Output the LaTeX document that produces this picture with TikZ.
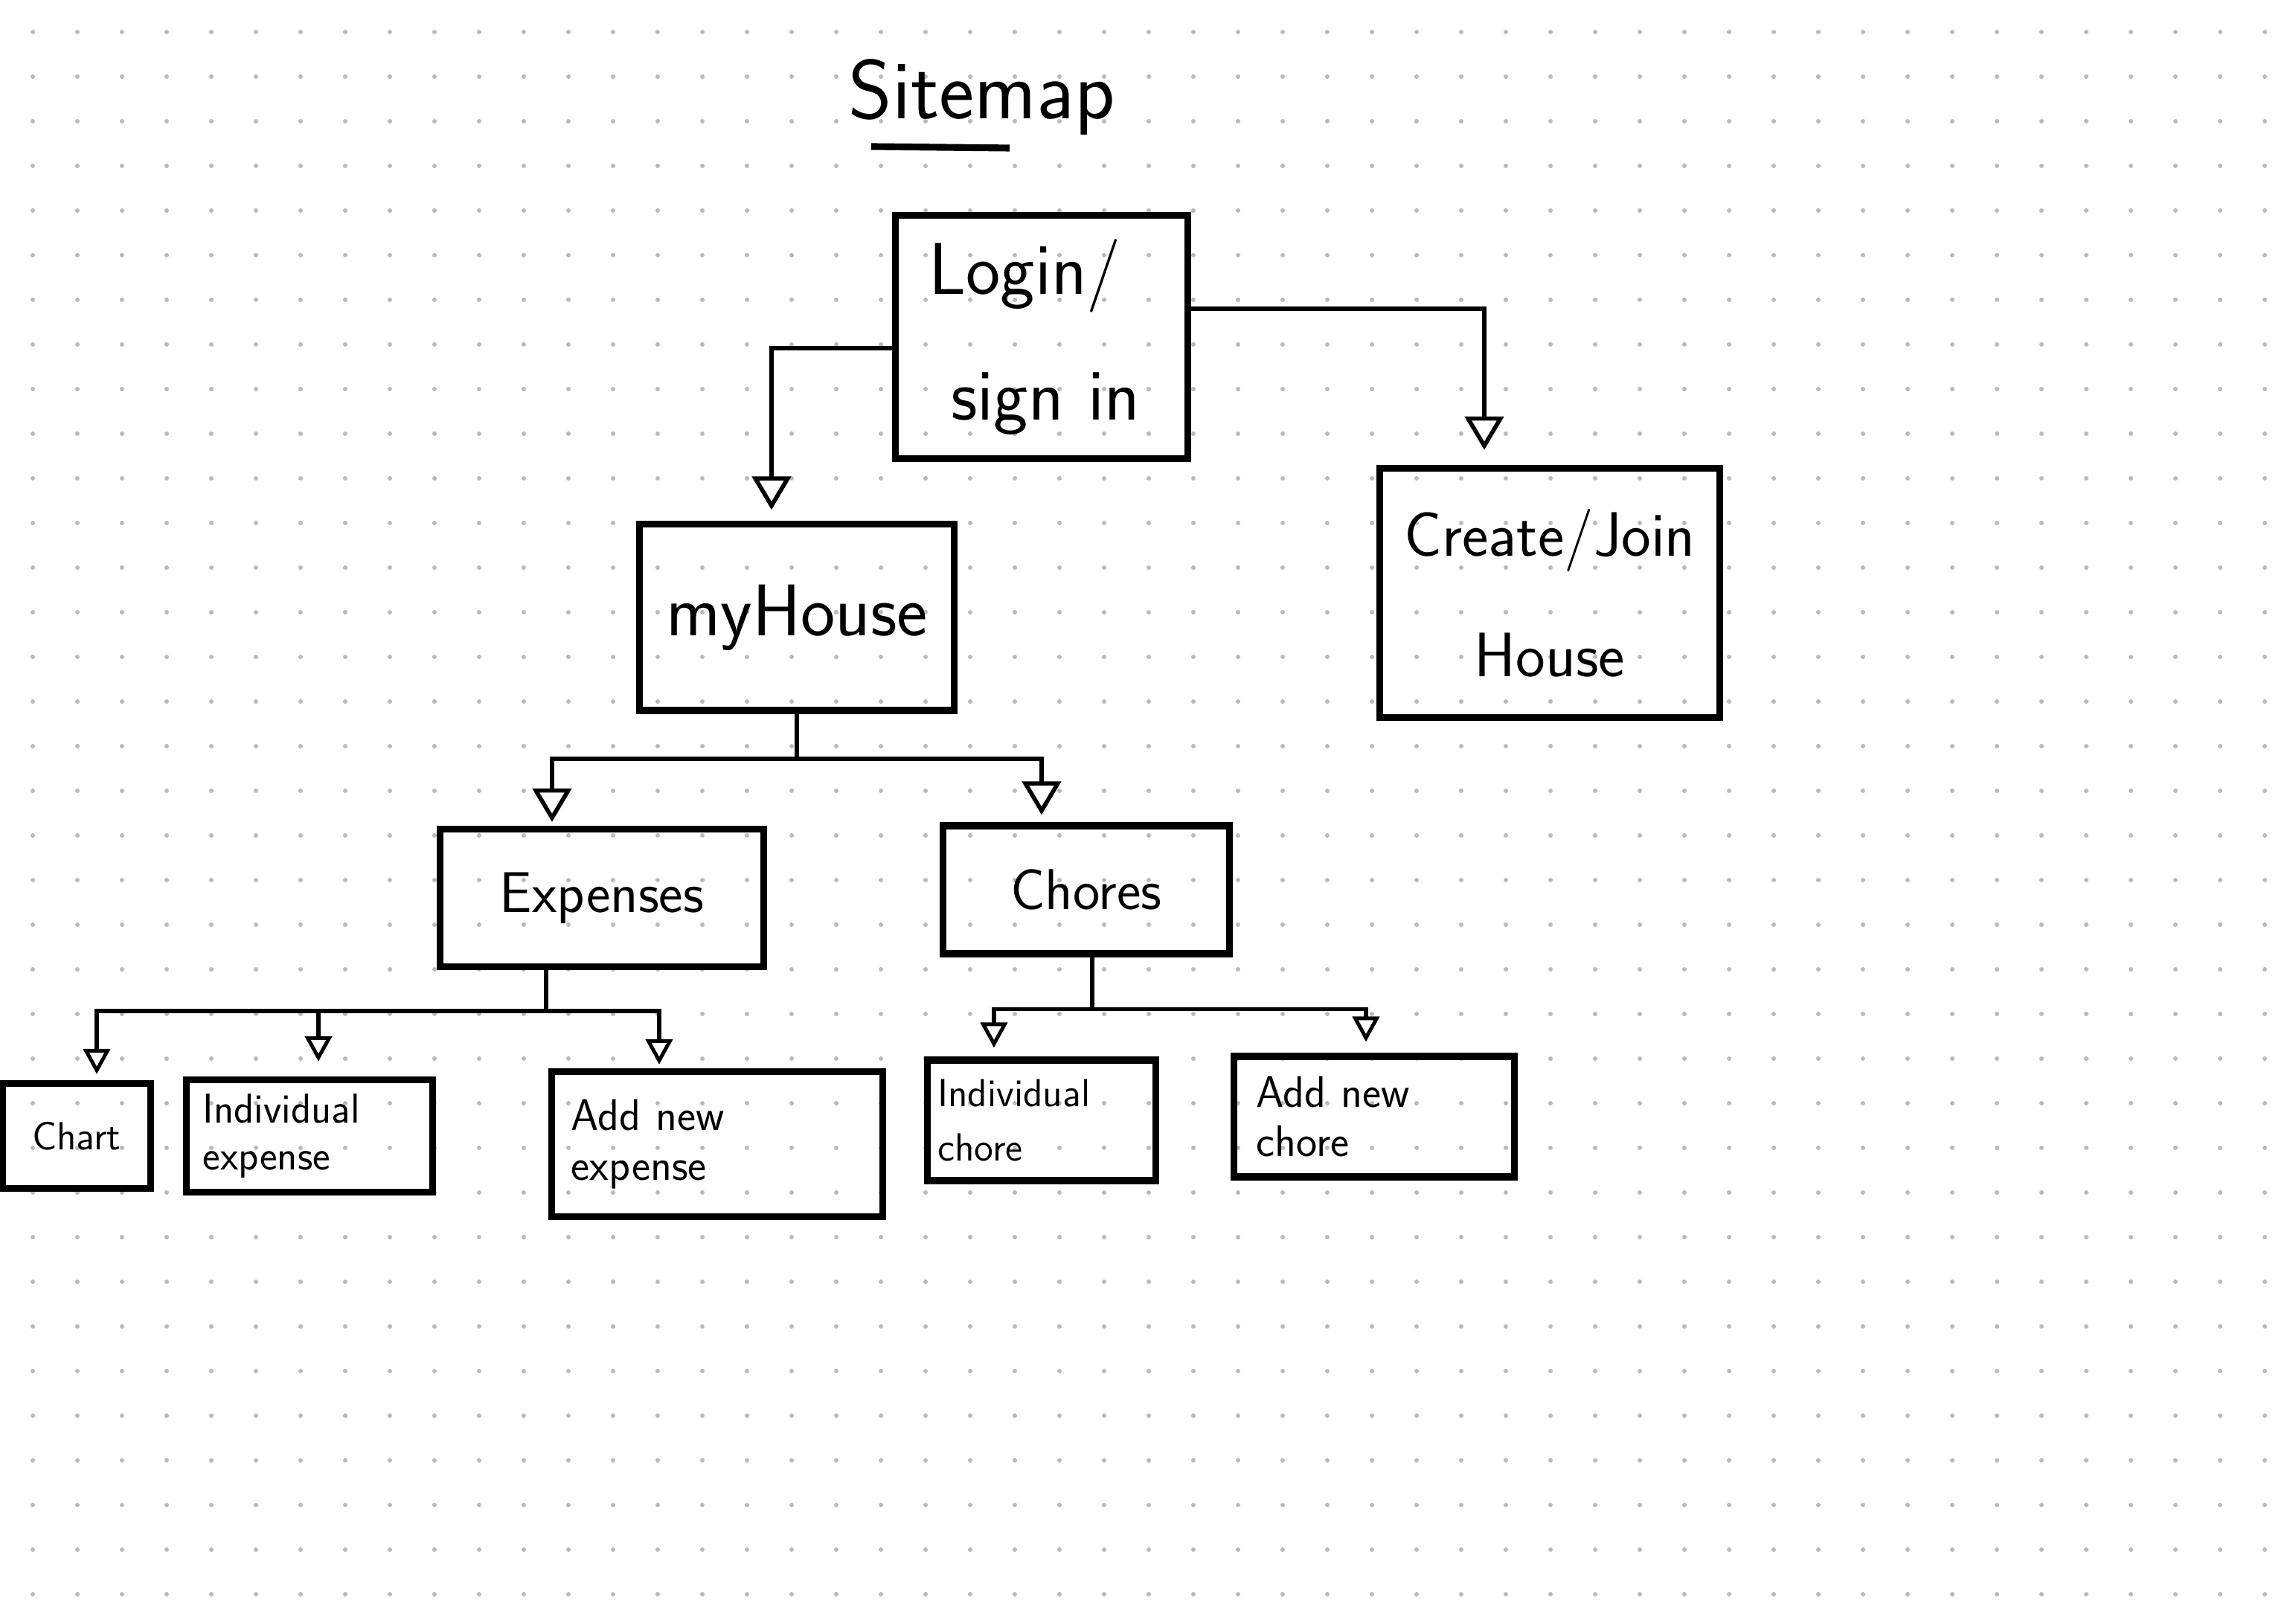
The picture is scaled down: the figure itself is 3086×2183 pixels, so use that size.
\documentclass[tikz,border=0pt]{standalone}
\usepackage{fontspec}
\usepackage{tikz}
\usetikzlibrary{arrows.meta}

\definecolor{dotgray}{RGB}{186,186,186}

\tikzset{
  pagebox/.style={draw, line width=2.6pt, inner sep=2pt, font=\sffamily},
  link/.style={line width=1.8pt, -{Triangle[open, width=0.52cm, length=0.45cm, line width=1.6pt]}},
  sublink/.style={line width=1.6pt, -{Triangle[open, width=0.36cm, length=0.34cm, line width=1.4pt]}},
  stem/.style={line width=1.8pt},
}

\begin{document}
\begin{tikzpicture}[x=0.01cm, y=-0.01cm]
\useasboundingbox (0,0) rectangle (3086,2183);
\fill[white] (0,0) rectangle (3086,2183);

% dotted paper
\foreach \i in {0,...,50}
  \foreach \j in {0,...,35}
    \fill[dotgray] (44+60*\i, 43+60*\j) circle[radius=0.03cm];

% heading
\node[anchor=base west, inner sep=0pt, font=\sffamily\fontsize{32}{36}\selectfont] (heading) at (1140,160) {Sitemap};
\draw[line width=2.6pt] (1171,197) -- (1357,199);

% pages
\node[pagebox, align=left, inner xsep=0.45cm, text width=3.03cm, minimum height=3.27cm,
      font=\sffamily\fontsize{28}{48}\selectfont] (login) at (1400,453) {Login/\\\hspace*{0.3cm}sign in};
\node[pagebox, minimum width=4.23cm, minimum height=2.5cm,
      font=\sffamily\fontsize{28}{34}\selectfont] (myhouse) at (1071,830) {myHouse};
\node[pagebox, align=center, minimum width=4.57cm, minimum height=3.35cm,
      font=\sffamily\fontsize{24}{46}\selectfont] (create) at (2083,797) {Create/Join\\House};

\node[pagebox, minimum width=4.35cm, minimum height=1.85cm,
      font=\sffamily\fontsize{22}{26}\selectfont] (expenses) at (809,1207) {Expenses};
\node[pagebox, minimum width=3.85cm, minimum height=1.72cm,
      font=\sffamily\fontsize{22}{26}\selectfont] (chores) at (1460,1196) {Chores};

\node[pagebox, minimum width=1.99cm, minimum height=1.41cm,
      font=\sffamily\fontsize{15}{18}\selectfont] (chart) at (103,1527) {Chart};
\node[pagebox, align=left, inner xsep=0.22cm, text width=2.86cm, minimum height=1.51cm,
      font=\sffamily\fontsize{16}{18}\selectfont] (indexp) at (416,1527) {Individual\\expense};
\node[pagebox, align=left, inner xsep=0.26cm, text width=3.92cm, minimum height=1.95cm,
      font=\sffamily\fontsize{17}{19}\selectfont] (addexp) at (964,1538) {Add new\\expense};
\node[pagebox, align=left, inner xsep=0.14cm, text width=2.79cm, minimum height=1.62cm,
      font=\sffamily\fontsize{15}{21}\selectfont] (indchore) at (1400,1506) {Individual\\chore};
\node[pagebox, align=left, inner xsep=0.3cm, text width=3.16cm, minimum height=1.62cm,
      font=\sffamily\fontsize{17}{19}\selectfont] (addchore) at (1847,1501) {Add new\\chore};

% login level
\draw[link, shorten >=0.15cm] ([yshift=-0.15cm]login.west) -| ([xshift=-0.34cm]myhouse.north);
\draw[link, shorten >=0.2cm] ([yshift=0.38cm]login.east) -| ([xshift=-0.88cm]create.north);

% myHouse level
\coordinate (hsplit) at ([yshift=-0.6cm]myhouse.south);
\draw[stem] (myhouse.south) -- (hsplit);
\draw[link, shorten >=0.05cm] (hsplit) -| ([xshift=-0.67cm]expenses.north);
\draw[link, shorten >=0.1cm] (hsplit) -| ([xshift=-0.6cm]chores.north);

% expenses level
\coordinate (esplit) at ([xshift=-0.75cm, yshift=-0.55cm]expenses.south);
\draw[stem] ([xshift=-0.75cm]expenses.south) -- (esplit);
\draw[sublink, shorten >=0.08cm] (esplit) -| ([xshift=0.27cm]chart.north);
\draw[sublink, shorten >=0.2cm] (esplit) -| ([xshift=0.12cm]indexp.north);
\draw[sublink, shorten >=0.05cm] (esplit) -| ([xshift=-0.78cm]addexp.north);

% chores level
\coordinate (csplit) at ([xshift=0.08cm, yshift=-0.7cm]chores.south);
\draw[stem] ([xshift=0.08cm]chores.south) -- (csplit);
\draw[sublink, shorten >=0.12cm] (csplit) -| ([xshift=-0.64cm]indchore.north);
\draw[sublink, shorten >=0.15cm] (csplit) -| ([xshift=-0.11cm]addchore.north);
\end{tikzpicture}
\end{document}
